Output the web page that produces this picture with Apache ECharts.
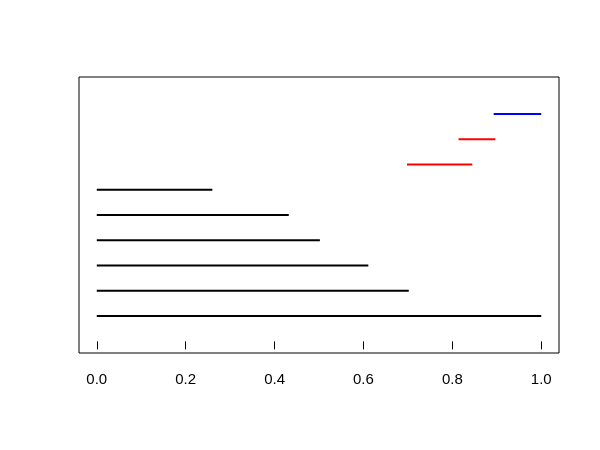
<!DOCTYPE html>
<html>
<head>
<meta charset="utf-8">
<script src="https://cdn.jsdelivr.net/npm/echarts@6/dist/echarts.min.js"></script>
<style>html,body{margin:0;padding:0;background:#fff}#c{width:600px;height:450px}</style>
</head>
<body>
<div id="c"></div>
<script>
var rows = [1, 2, 3, 4, 5, 6, 7, 8, 9];
var starts = [0, 0, 0, 0, 0, 0, 0.698, 0.814, 0.893];
var ends = [1.0, 0.702, 0.611, 0.502, 0.432, 0.26, 0.845, 0.897, 1.0];
var colors = ['#000000', '#000000', '#000000', '#000000', '#000000', '#000000', '#ff0000', '#ff0000', '#0000ff'];
var xTicks = [0, 0.2, 0.4, 0.6, 0.8, 1.0];

var data = rows.map(function (r, i) { return [starts[i], ends[i], r, i]; });

var chart = echarts.init(document.getElementById('c'), null, {renderer: 'canvas'});
chart.setOption({
  animation: false,
  backgroundColor: '#ffffff',
  grid: {left: 79, right: 41, top: 77, bottom: 97, show: true, borderColor: '#000000', borderWidth: 1, backgroundColor: 'transparent'},
  xAxis: {
    type: 'value', min: -0.04, max: 1.04,
    splitLine: {show: false},
    axisLine: {show: false},
    axisTick: {show: true, length: 8, lineStyle: {color: '#000000'}, customValues: xTicks},
    axisLabel: {color: '#000000', fontSize: 15, fontFamily: 'Liberation Sans', margin: 19,
      customValues: xTicks, formatter: function (v) { return v.toFixed(1); }}
  },
  yAxis: {type: 'value', min: -0.46, max: 10.46, show: false, splitLine: {show: false}},
  series: [{
    type: 'custom',
    data: data,
    encode: {x: [0, 1], y: 2},
    renderItem: function (params, api) {
      var p1 = api.coord([api.value(0), api.value(2)]);
      var p2 = api.coord([api.value(1), api.value(2)]);
      return {
        type: 'line',
        shape: {x1: p1[0], y1: p1[1], x2: p2[0], y2: p2[1]},
        style: {stroke: colors[api.value(3)], lineWidth: 2}
      };
    }
  }]
});
</script>
</body>
</html>
